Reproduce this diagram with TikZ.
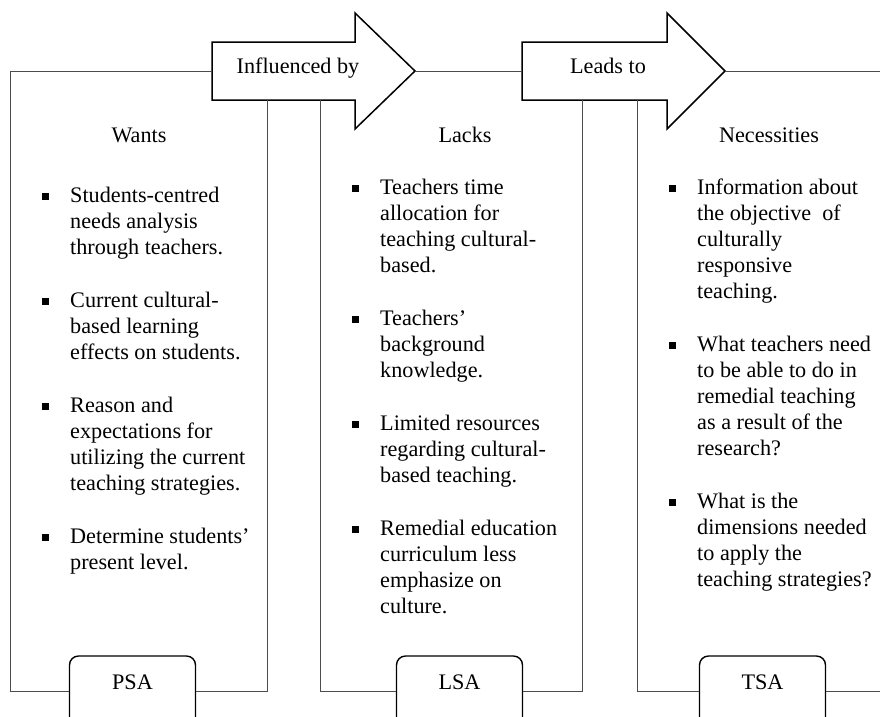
\documentclass[tikz,border=0pt]{standalone}
\usepackage{fontspec}
\setmainfont{Liberation Serif}
\usetikzlibrary{calc}
\newcommand{\figfont}{\fontsize{22.2}{26}\selectfont}

\begin{document}
\begin{tikzpicture}[x=1pt, y=-1pt,
    frame/.style={draw=black!70, line width=0.9pt},
    bigarrow/.style={draw=black, line width=1.5pt, fill=white},
    tag/.style={draw=black, line width=1.4pt, rounded corners=9pt, fill=white, anchor=base,
                minimum width=126pt, text height=25pt, text depth=45pt, inner ysep=8pt, font=\figfont},
    head/.style={anchor=base, inner sep=0pt, font=\figfont},
    point/.style={anchor=north west, yshift=18.2pt, align=left, inner sep=0pt, font=\figfont,
                  execute at begin node=\strut},
    dot/.style={fill=black}]
    \useasboundingbox (0,0) rectangle (880,716);
    \clip (0,0) rectangle (880,716);

    % corners of the three panels
    \coordinate (p1tl) at (10,71);
    \coordinate (p1bl) at (10,691);
    \coordinate (p1br) at (267,691);
    \coordinate (p1tr) at (267,100);
    \coordinate (p2bl) at (320,691);
    \coordinate (p2tl) at (320,100);
    \coordinate (p2br) at (582,691);
    \coordinate (p2tr) at (582,100);
    \coordinate (p3bl) at (637,691);
    \coordinate (p3tl) at (637,100);
    \coordinate (p3br) at (880,691);
    \coordinate (p3tr) at (880,71);

    % the two big arrows
    \draw[bigarrow] (212,42) -- (355,42) -- (355,13) -- (415,71) coordinate (a1tip)
        -- (355,129) -- (355,100) -- (212,100) -- cycle;
    \coordinate (a1tail) at (212,71);
    \node[head] (infl) at (298,73) {Influenced by};

    \draw[bigarrow] (522,42) -- (667,42) -- (667,13) -- (725,71) coordinate (a2tip)
        -- (667,129) -- (667,100) -- (522,100) -- cycle;
    \coordinate (a2tail) at (522,71);
    \node[head] (lead) at (608,73) {Leads to};

    % tags at the bottom
    \node[tag] (psa) at (132.5,689) {PSA};
    \node[tag] (lsa) at (459.5,689) {LSA};
    \node[tag] (tsa) at (762.5,689) {TSA};

    % panel frames
    \draw[frame] (psa.west |- p1bl) -- (p1bl) -- (p1tl) -- (a1tail);
    \draw[frame] (psa.east |- p1br) -- (p1br) -- (p1tr);
    \draw[frame] (lsa.west |- p2bl) -- (p2bl) -- (p2tl);
    \draw[frame] (lsa.east |- p2br) -- (p2br) -- (p2tr);
    \draw[frame] (a1tip) -- (a2tail);
    \draw[frame] (tsa.west |- p3bl) -- (p3bl) -- (p3tl);
    \draw[frame] (tsa.east |- p3br) -- (p3br);
    \draw[frame] (a2tip) -- (p3tr);

    % headings
    \node[head] (wants) at (139,142) {Wants};
    \node[head] (lacks) at (465,142) {Lacks};
    \node[head] (needs) at (769,142) {Necessities};

    % wants
    \node[point] (w1) at (70,205) {Students-centred\\needs analysis\\through teachers.};
    \node[point] (w2) at (70,310) {Current cultural-\\based learning\\effects on students.};
    \node[point] (w3) at (70,415) {Reason and\\expectations for\\utilizing the current\\teaching strategies.};
    \node[point] (w4) at (70,546) {Determine students’\\present level.};

    % lacks
    \node[point] (l1) at (380,197) {Teachers time\\allocation for\\teaching cultural-\\based.};
    \node[point] (l2) at (380,328) {Teachers’\\background\\knowledge.};
    \node[point] (l3) at (380,433) {Limited resources\\regarding cultural-\\based teaching.};
    \node[point] (l4) at (380,538) {Remedial education\\curriculum less\\emphasize on\\culture.};

    % necessities
    \node[point] (n1) at (697,197) {Information about\\the objective~ of\\culturally\\responsive\\teaching.};
    \node[point] (n2) at (697,354) {What teachers need\\to be able to do in\\remedial teaching\\as a result of the\\research?};
    \node[point] (n3) at (697,511) {What is the\\dimensions needed\\to apply the\\teaching strategies?};

    % bullets
    \foreach \p in {w1,w2,w3,w4,l1,l2,l3,l4,n1,n2,n3}
        \fill[dot] ($(\p.north west)+(-28,6)$) rectangle ++(7,7);
\end{tikzpicture}
\end{document}
